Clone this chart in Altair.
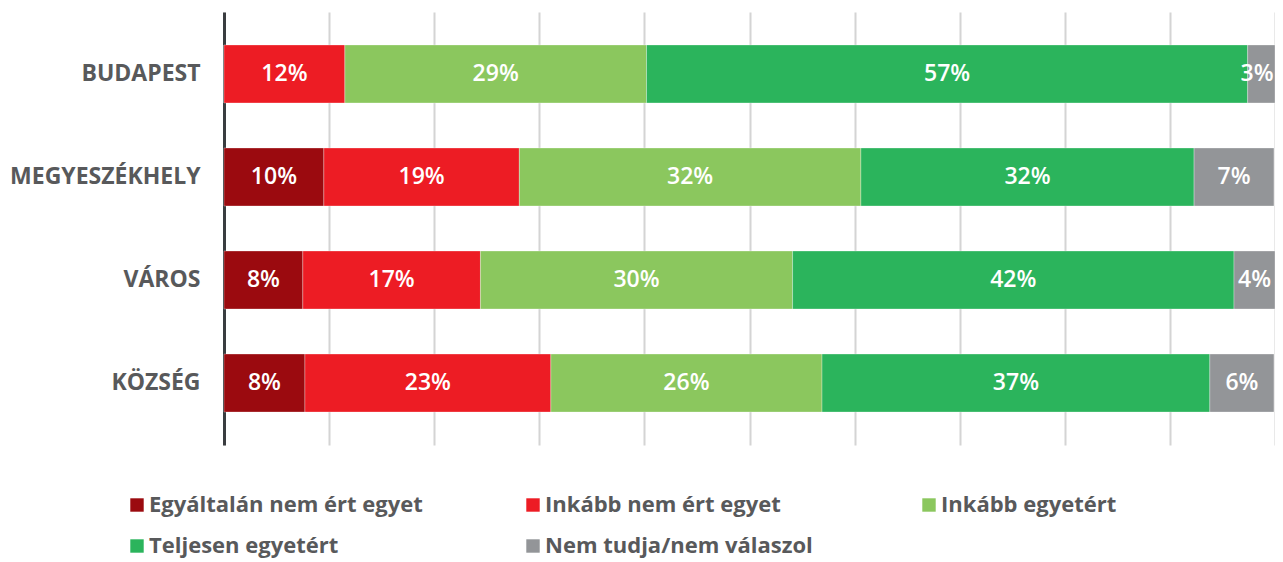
import altair as alt
import pandas as pd

categories = ["BUDAPEST", "MEGYESZÉKHELY", "VÁROS", "KÖZSÉG"]
series = ["Egyáltalán nem ért egyet", "Inkább nem ért egyet", "Inkább egyetért",
          "Teljesen egyetért", "Nem tudja/nem válaszol"]
colors = ["#9b0a0f", "#ed1c24", "#8bc75e", "#2bb45c", "#939598"]

# values per series, in category order (percent)
egyaltalan = [0.0, 9.5, 7.5, 7.7]
inkabb_nem = [11.5, 18.6, 16.9, 23.4]
inkabb_egy = [28.7, 32.5, 29.7, 25.8]
teljesen = [57.2, 31.7, 42.0, 36.9]
nem_tudja = [2.6, 7.6, 3.9, 6.1]

# labels as printed on the chart
lab_egyaltalan = ["", "10%", "8%", "8%"]
lab_inkabb_nem = ["12%", "19%", "17%", "23%"]
lab_inkabb_egy = ["29%", "32%", "30%", "26%"]
lab_teljesen = ["57%", "32%", "42%", "37%"]
lab_nem_tudja = ["3%", "7%", "4%", "6%"]

grid_values = [0, 10, 20, 30, 40, 50, 60, 70, 80, 90, 100]

vals = [egyaltalan, inkabb_nem, inkabb_egy, teljesen, nem_tudja]
labs = [lab_egyaltalan, lab_inkabb_nem, lab_inkabb_egy, lab_teljesen, lab_nem_tudja]

rows = []
for si, s in enumerate(series):
    for ci, c in enumerate(categories):
        rows.append({"cat": c, "series": s, "order": si,
                     "value": vals[si][ci], "label": labs[si][ci]})
df = pd.DataFrame(rows)

FONT = "Open Sans"
TXT = "#58595b"

base = alt.Chart(df).transform_stack(
    stack="value", groupby=["cat"], as_=["x0", "x1"],
    sort=[alt.SortField("order", order="ascending")]
).transform_calculate(mid="min((datum.x0 + datum.x1) / 2, 98.3)")

xscale = alt.Scale(domain=[0, 100], nice=False)
xaxis = alt.Axis(grid=True, gridColor="#d4d4d4", gridWidth=2,
                 values=grid_values, labels=False, ticks=False, domain=False)

yenc = alt.Y("cat:N", sort=categories, title=None,
             scale=alt.Scale(paddingInner=0.437, paddingOuter=0.32),
             axis=alt.Axis(domain=True, domainColor="#3a3d40", domainWidth=3,
                           ticks=False, labelPadding=24, labelFont=FONT,
                           labelFontSize=23, labelFontWeight="bold",
                           labelColor=TXT, labelLimit=400, grid=False))

bars = base.mark_bar(stroke="white", strokeWidth=0.6, strokeOpacity=0.5).encode(
    x=alt.X("x0:Q", title=None, scale=xscale, axis=xaxis),
    x2="x1:Q",
    y=yenc,
    color=alt.Color("series:N", sort=series,
                    scale=alt.Scale(domain=series, range=colors),
                    legend=alt.Legend(title=None, orient="none",
                                      legendX=-98, legendY=482,
                                      direction="horizontal", columns=3,
                                      gridAlign="all", columnPadding=99,
                                      rowPadding=19,
                                      symbolType="square", symbolSize=180,
                                      symbolStrokeWidth=0, symbolOffset=0,
                                      labelFont=FONT, labelFontSize=22,
                                      labelFontWeight="bold", labelColor=TXT,
                                      labelOffset=1, labelLimit=400)),
    order=alt.Order("order:Q"),
)

texts = base.mark_text(color="white", font=FONT, fontSize=23,
                       fontWeight=600, baseline="middle").encode(
    x=alt.X("mid:Q", title=None, scale=xscale, axis=xaxis),
    y=yenc,
    text="label:N",
)

chart = alt.layer(bars, texts).properties(
    width=1051, height=433,
    autosize=alt.AutoSizeParams(type="none"),
    padding={"left": 216, "top": 4, "right": 0, "bottom": 117},
).configure_view(stroke=None)

chart.save("out.html", embed_options={"renderer": "svg", "actions": False})
